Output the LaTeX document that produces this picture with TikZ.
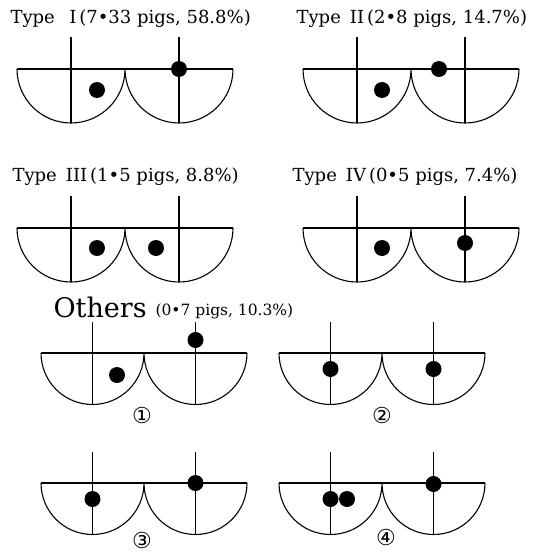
\documentclass[tikz,border=0pt]{standalone}
\usepackage{fontspec}
\setmainfont{DejaVu Serif}
\newfontfamily\circfont{DejaVu Sans}
\usepackage{tikz}

\begin{document}
\begin{tikzpicture}[x=1pt, y=1pt, line width=1.1pt,
    typelabel/.style={anchor=west, inner sep=0pt, font=\fontsize{18}{21}\selectfont},
    numlabel/.style={inner sep=0pt, font=\circfont\fontsize{22}{24}\selectfont}]
\useasboundingbox (0,0) rectangle (534,-554);

% large udders, types I-IV
\foreach \l/\t in {17/69, 303/69, 17/228, 303/228}{
  \draw (\l,-\t) -- ++(216,0);
  \draw (\l,-\t) arc (180:360:54) arc (180:360:54);
  \draw (\l+54,-\t+32) -- ++(0,-86);
  \draw (\l+162,-\t+32) -- ++(0,-86);
}
% smaller udders, others
\foreach \l/\t in {41/353, 279/353, 41/483, 279/483}{
  \draw (\l,-\t) -- ++(206,0);
  \draw (\l,-\t) arc (180:360:51.5) arc (180:360:51.5);
  \draw (\l+51.5,-\t+31) -- ++(0,-82.5);
  \draw (\l+154.5,-\t+31) -- ++(0,-82.5);
}

% nipples
\fill (97,-90) circle (8);
\fill (179,-69) circle (8);
\fill (382,-90) circle (8);
\fill (439,-69) circle (8);
\fill (97,-248) circle (8);
\fill (156,-248) circle (8);
\fill (382,-248) circle (8);
\fill (465,-243) circle (8);
\fill (117,-375) circle (8);
\fill (195.5,-340) circle (8);
\fill (330.5,-369) circle (8);
\fill (433.5,-369) circle (8);
\fill (92.5,-499) circle (8);
\fill (195.5,-483) circle (8);
\fill (330.5,-499) circle (8);
\fill (347,-499) circle (8);
\fill (433.5,-484) circle (8);

% labels
\node[typelabel] (typeone) at (10,-19) {Type\hspace{0.8em}I\,(7•33 pigs, 58.8\%)};
\node[typelabel] (typetwo) at (296,-19) {Type\hspace{0.5em}II\,(2•8 pigs, 14.7\%)};
\node[typelabel] (typethree) at (12,-177) {Type\hspace{0.5em}III\,(1•5 pigs, 8.8\%)};
\node[typelabel] (typefour) at (292,-177) {Type\hspace{0.5em}IV\,(0•5 pigs, 7.4\%)};
\node[anchor=west, inner sep=0pt, font=\fontsize{27}{30}\selectfont] (others) at (53,-307) {Others};
\node[anchor=west, inner sep=0pt, font=\fontsize{15.5}{18}\selectfont] (othersnum) at (155,-311) {(0•7 pigs, 10.3\%)};
\node[numlabel] (one) at (142,-415) {①};
\node[numlabel] (two) at (382,-415) {②};
\node[numlabel] (three) at (142,-540) {③};
\node[numlabel] (four) at (386,-537) {④};
\end{tikzpicture}
\end{document}
